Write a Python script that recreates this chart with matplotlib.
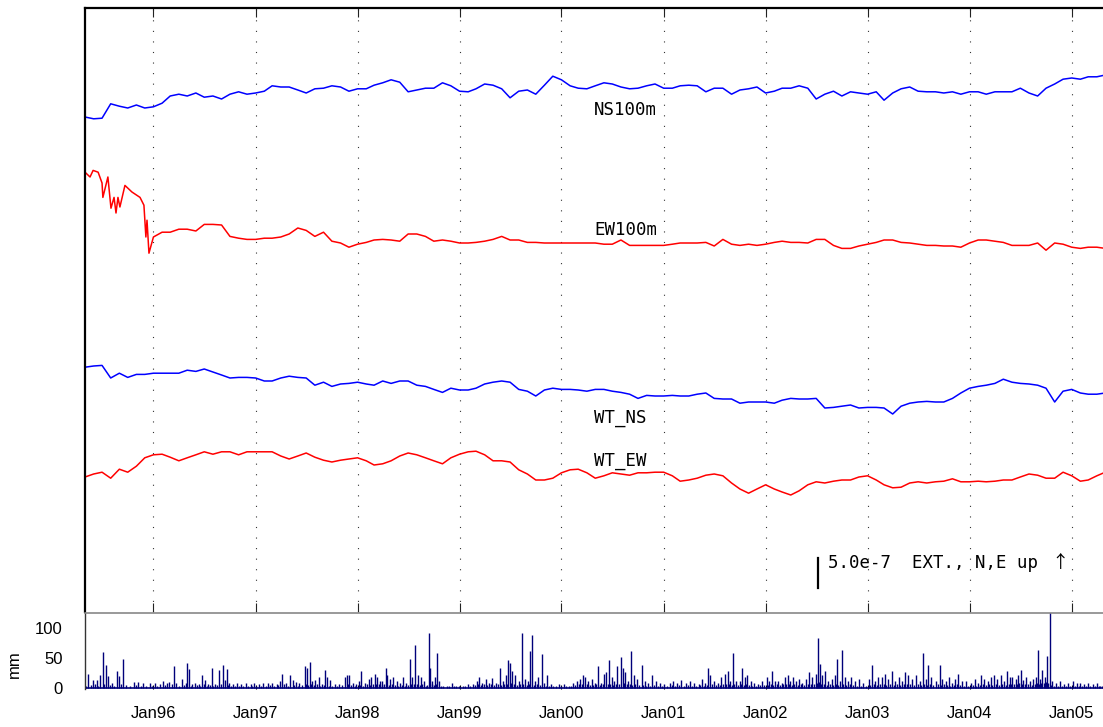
import numpy as np
import pandas as pd
import matplotlib
matplotlib.use("Agg")
import matplotlib.pyplot as plt
import matplotlib.dates as mdates

plt.rcParams["font.family"] = ["Liberation Sans", "DejaVu Sans"]

# ---------------------------------------------------------------- data
# Strain changes in units of 1e-7 (extension positive), relative to May 1995,
# sampled at the start of each month from 1995-05.
ns100m = [0.0, -0.3, -0.2, 2.2, 1.8, 1.5, 2.0, 1.5, 1.7, 2.3,
          3.5, 3.8, 3.5, 4.0, 3.3, 3.5, 3.0, 3.8, 4.2, 3.8,
          4.0, 4.3, 5.2, 5.0, 5.0, 4.5, 4.0, 4.7, 4.8, 5.2,
          5.0, 4.3, 4.7, 4.7, 5.3, 5.7, 6.2, 5.8, 4.2, 4.5,
          4.8, 4.8, 5.7, 5.2, 4.3, 4.2, 4.7, 5.5, 5.3, 4.7,
          3.2, 4.3, 4.5, 3.8, 5.3, 6.8, 6.2, 5.2, 4.8, 4.7,
          5.2, 5.7, 5.5, 5.0, 4.7, 4.8, 5.2, 5.5, 4.8, 4.8,
          5.2, 5.3, 5.2, 4.2, 4.8, 4.8, 3.8, 4.5, 4.7, 5.0,
          4.0, 4.3, 4.8, 4.8, 5.2, 4.8, 3.0, 3.8, 4.3, 3.5,
          4.2, 4.0, 3.8, 4.2, 2.8, 4.0, 4.7, 5.0, 4.3, 4.2,
          4.2, 4.0, 4.2, 3.8, 4.2, 4.2, 3.8, 4.2, 4.2, 4.2,
          4.8, 4.0, 3.5, 4.8, 5.5, 6.3, 6.5, 6.3, 6.7, 6.7,
          7.0]

# EW100m: dense readings during the settling period of 1995, monthly afterwards
ew100m_early_dates = ["1995-05-01", "1995-05-19", "1995-05-30", "1995-06-17",
                      "1995-07-01", "1995-07-04", "1995-07-22", "1995-08-02",
                      "1995-08-13", "1995-08-20", "1995-08-27", "1995-09-03",
                      "1995-09-21", "1995-10-16", "1995-11-14", "1995-11-28",
                      "1995-12-05", "1995-12-09", "1995-12-16"]
ew100m_early = [0.0, -0.8, 0.3, 0.0, -1.8, -4.2, -0.8, -6.0, -4.2, -6.8,
                -4.2, -5.8, -2.2, -3.3, -4.2, -5.5, -10.8, -8.0, -13.5]
ew100m_monthly_start = "1996-01-01"
ew100m_monthly = [-10.8, -10.0,
                  -10.0, -9.5, -9.5, -9.8, -8.7, -8.7, -8.8, -10.7, -11.0, -11.2,
                  -11.2, -11.0, -11.0, -10.8, -10.3, -9.3, -9.7, -10.7, -10.0, -11.5,
                  -11.8, -12.5, -12.0, -11.7, -11.3, -11.2, -11.3, -11.5, -10.3, -10.3,
                  -10.7, -11.5, -11.3, -11.5, -11.8, -11.8, -11.7, -11.5, -11.2, -10.7,
                  -11.3, -11.3, -11.7, -11.7, -11.8, -11.8, -11.8, -11.8, -11.8, -11.8,
                  -11.8, -12.0, -12.0, -11.3, -12.2, -12.2, -12.2, -12.2, -12.2, -12.0,
                  -11.8, -11.8, -11.8, -11.7, -12.3, -11.2, -12.0, -12.2, -12.0, -12.2,
                  -12.0, -11.7, -11.5, -11.7, -11.7, -11.8, -11.2, -11.2, -12.2, -12.7,
                  -12.7, -12.3, -12.0, -11.7, -11.3, -11.3, -11.7, -11.8, -12.0, -12.2,
                  -12.2, -12.3, -12.3, -12.5, -11.8, -11.3, -11.3, -11.5, -11.7, -12.2,
                  -12.2, -12.2, -11.8, -13.0, -11.8, -12.0, -12.5, -12.7, -12.5, -12.5,
                  -12.7]

wt_ns = [0.0, 0.2, 0.3, -1.8, -1.0, -1.7, -1.2, -1.2, -1.0, -1.0,
         -1.0, -1.0, -0.5, -0.7, -0.3, -0.8, -1.3, -1.8, -1.7, -1.7,
         -1.8, -2.3, -2.3, -1.8, -1.5, -1.7, -1.8, -3.0, -2.5, -3.2,
         -2.8, -2.7, -2.5, -2.8, -3.0, -2.3, -2.7, -2.3, -2.3, -3.0,
         -3.2, -3.7, -4.2, -3.5, -3.8, -3.8, -3.5, -2.8, -2.5, -2.3,
         -2.5, -3.7, -4.0, -4.8, -3.8, -3.5, -3.7, -3.7, -3.8, -4.0,
         -3.7, -3.7, -4.0, -4.2, -4.5, -5.2, -4.7, -4.8, -4.8, -4.7,
         -4.8, -4.8, -4.5, -4.3, -5.2, -5.3, -5.3, -6.0, -5.8, -5.8,
         -5.8, -6.0, -5.5, -5.2, -5.3, -5.3, -5.2, -6.8, -6.7, -6.5,
         -6.3, -6.8, -6.7, -6.7, -6.8, -7.8, -6.5, -6.0, -5.8, -5.7,
         -5.8, -5.8, -5.2, -4.3, -3.5, -3.2, -3.0, -2.7, -2.0, -2.5,
         -2.7, -2.8, -3.0, -3.5, -5.8, -4.0, -3.7, -4.3, -4.5, -4.5,
         -4.3]

wt_ew = [0.0, 0.5, 0.8, -0.2, 1.3, 0.8, 1.8, 3.2, 3.7, 3.8,
         3.3, 2.7, 3.2, 3.7, 4.2, 3.8, 4.2, 4.2, 3.7, 4.2,
         4.2, 4.2, 4.2, 3.5, 3.0, 3.5, 4.0, 3.3, 2.8, 2.5,
         2.8, 3.0, 3.2, 2.7, 2.0, 2.2, 2.7, 3.5, 4.0, 3.7,
         3.2, 2.7, 2.2, 3.2, 3.8, 4.2, 4.3, 3.7, 2.7, 2.7,
         2.5, 1.2, 0.5, -0.5, -0.5, -0.2, 0.7, 1.2, 1.3, 0.7,
         -0.2, 0.2, 0.7, 0.5, 0.3, 0.7, 0.7, 0.8, 0.8, 0.2,
         -0.7, -0.5, -0.2, 0.3, 0.5, 0.2, -1.0, -2.0, -2.7, -2.0,
         -1.3, -2.0, -2.5, -3.0, -2.3, -1.3, -0.8, -1.0, -0.7, -0.5,
         -0.5, 0.0, 0.2, -0.5, -1.3, -1.8, -1.7, -1.0, -0.8, -1.0,
         -0.8, -0.7, -0.3, -0.8, -0.8, -0.7, -0.8, -0.7, -0.5, -0.5,
         0.0, 0.5, 0.3, -0.2, -0.2, 0.8, 0.2, -0.7, -0.5, 0.2,
         0.8]

series_start = "1995-05-01"

# Daily precipitation (days after 1995-05-01, mm): the heavier days ...
rain_events = [
    (11, 23), (29, 13), (43, 14), (54, 22), (64, 60), (75, 38), (82, 20), (97, 8),
    (115, 28), (122, 20), (136, 48), (147, 5), (175, 10), (190, 10), (208, 9), (233, 8),
    (249, 9), (267, 6), (279, 12), (293, 9), (302, 10), (319, 36), (326, 8), (349, 15),
    (360, 9), (367, 42), (372, 32), (384, 6), (395, 9), (407, 7), (419, 21), (430, 13),
    (442, 7), (453, 34), (465, 6), (481, 30), (493, 38), (500, 13), (507, 32), (516, 9),
    (530, 6), (546, 9), (558, 6), (577, 9), (593, 7), (605, 8),
    (623, 7), (639, 8), (656, 8), (670, 9), (686, 7), (698, 12), (707, 24), (721, 8),
    (735, 21), (744, 13), (756, 10), (767, 8), (786, 36), (795, 34), (804, 43), (814, 12),
    (825, 13), (837, 18), (849, 7), (860, 30), (867, 18), (877, 13), (895, 6), (911, 7),
    (930, 19), (937, 22), (946, 21), (958, 9), (972, 7),
    (981, 11), (990, 29), (1004, 8), (1016, 15), (1025, 18), (1037, 23), (1046, 18),
    (1058, 12), (1065, 12), (1076, 34), (1083, 21), (1093, 15), (1104, 19), (1116, 12),
    (1128, 9), (1139, 18), (1151, 9), (1163, 49), (1172, 18), (1183, 71), (1193, 21),
    (1202, 19), (1214, 12), (1230, 92), (1237, 34), (1244, 12), (1253, 18), (1262, 58),
    (1269, 11), (1283, 4), (1295, 4), (1314, 8), (1330, 4),
    (1353, 4), (1372, 6), (1388, 7), (1402, 11), (1411, 18), (1423, 9), (1435, 15),
    (1446, 9), (1458, 16), (1472, 8), (1486, 33), (1495, 12), (1507, 21), (1516, 46),
    (1523, 41), (1530, 29), (1539, 21), (1553, 12), (1565, 92), (1576, 15), (1586, 12),
    (1595, 61), (1602, 89), (1611, 12), (1623, 18), (1637, 57), (1644, 9), (1655, 22),
    (1669, 7), (1686, 4), (1697, 6),
    (1716, 7), (1732, 4), (1748, 8), (1762, 11), (1774, 15), (1783, 21), (1790, 19),
    (1802, 11), (1814, 15), (1825, 8), (1837, 36), (1848, 9), (1860, 24), (1867, 26),
    (1876, 47), (1886, 18), (1895, 12), (1904, 37), (1918, 51), (1925, 34), (1934, 26),
    (1944, 12), (1955, 61), (1965, 21), (1976, 15), (1993, 39), (2004, 12), (2016, 9),
    (2030, 21), (2044, 12), (2058, 8),
    (2074, 6), (2093, 9), (2106, 12), (2120, 8), (2134, 13), (2151, 9), (2167, 11),
    (2181, 9), (2197, 6), (2209, 15), (2220, 9), (2232, 34), (2239, 21), (2251, 12),
    (2267, 8), (2279, 19), (2290, 23), (2302, 29), (2311, 12), (2320, 58), (2330, 12),
    (2344, 12), (2353, 33), (2362, 18), (2372, 21), (2383, 12), (2395, 8), (2409, 7),
    (2423, 11),
    (2441, 18), (2448, 12), (2460, 29), (2469, 11), (2483, 12), (2495, 9), (2506, 18),
    (2516, 22), (2525, 11), (2534, 18), (2546, 12), (2558, 15), (2569, 9), (2581, 15),
    (2592, 26), (2604, 18), (2616, 23), (2623, 83), (2630, 40), (2639, 21), (2651, 29),
    (2662, 12), (2674, 15), (2685, 21), (2692, 49), (2702, 12), (2709, 64), (2720, 18),
    (2732, 12), (2744, 18), (2757, 11), (2771, 15), (2785, 8),
    (2806, 15), (2818, 38), (2830, 12), (2841, 18), (2855, 19), (2864, 24), (2874, 15),
    (2890, 29), (2902, 12), (2913, 19), (2925, 12), (2937, 26), (2948, 21), (2962, 15),
    (2976, 21), (2988, 11), (2999, 58), (3011, 15), (3020, 38), (3029, 18), (3046, 12),
    (3060, 38), (3069, 15), (3083, 12), (3092, 18), (3104, 9), (3116, 15), (3127, 23),
    (3139, 12), (3153, 11),
    (3171, 9), (3185, 15), (3197, 9), (3209, 21), (3218, 15), (3232, 12), (3243, 18),
    (3255, 21), (3267, 15), (3278, 21), (3290, 12), (3302, 28), (3311, 18), (3320, 19),
    (3332, 15), (3341, 22), (3350, 30), (3360, 13), (3371, 19), (3383, 12), (3395, 15),
    (3404, 18), (3411, 64), (3420, 15), (3427, 30), (3436, 18), (3443, 53), (3455, 126),
    (3464, 11), (3478, 8), (3492, 12), (3506, 6), (3520, 8),
    (3539, 11), (3553, 8), (3564, 9), (3576, 6), (3592, 8), (3608, 6), (3622, 9),
    (3636, 4),
]

# ... and the light-rain days in between
light_rain_events = [
    (5, 4), (20, 5), (36, 6), (48, 4), (69, 7), (90, 5), (105, 4), (128, 6), (160, 4),
    (182, 5), (200, 3), (220, 4), (240, 3),
    (258, 4), (285, 5), (310, 6), (335, 4), (355, 5), (378, 4), (401, 5), (413, 3),
    (425, 6), (436, 4), (447, 5), (459, 4), (472, 5), (487, 6), (511, 5), (523, 4),
    (538, 3), (552, 4), (567, 3), (585, 4), (599, 3), (614, 4),
    (631, 3), (647, 4), (663, 5), (678, 4), (692, 5), (714, 6), (728, 4), (750, 5),
    (761, 4), (777, 5), (790, 6), (800, 5), (809, 6), (820, 5), (831, 6), (843, 4),
    (855, 5), (872, 4), (886, 3), (903, 4), (920, 5), (941, 6), (952, 5), (965, 4),
    (985, 5), (997, 4), (1010, 6), (1020, 5), (1031, 6), (1042, 7), (1052, 6), (1062, 5),
    (1070, 6), (1088, 5), (1098, 6), (1110, 5), (1122, 4), (1134, 5), (1145, 4),
    (1157, 5), (1168, 6), (1178, 7), (1188, 6), (1198, 5), (1208, 6), (1220, 4),
    (1225, 5), (1241, 6), (1249, 5), (1258, 6), (1276, 3), (1305, 3), (1322, 3), (1340, 3),
    (1362, 3), (1380, 4), (1395, 5), (1407, 6), (1417, 5), (1429, 6), (1441, 5),
    (1452, 6), (1465, 5), (1479, 6), (1490, 5), (1501, 6), (1511, 7), (1527, 8),
    (1535, 6), (1546, 5), (1559, 6), (1570, 6), (1581, 5), (1591, 6), (1606, 5),
    (1617, 6), (1630, 5), (1650, 4), (1662, 3), (1677, 3), (1705, 3),
    (1724, 3), (1740, 4), (1755, 5), (1768, 6), (1779, 7), (1796, 6), (1808, 5),
    (1820, 5), (1831, 6), (1843, 5), (1854, 6), (1872, 7), (1881, 6), (1890, 5),
    (1900, 6), (1911, 7), (1929, 8), (1939, 6), (1950, 6), (1960, 5), (1970, 6),
    (1984, 5), (1999, 5), (2010, 4), (2023, 4), (2037, 5), (2051, 4), (2066, 3),
    (2084, 4), (2100, 5), (2113, 4), (2127, 5), (2143, 4), (2159, 5), (2174, 4),
    (2189, 4), (2203, 5), (2215, 4), (2226, 5), (2245, 6), (2258, 5), (2273, 5),
    (2285, 6), (2296, 7), (2307, 6), (2316, 5), (2325, 6), (2337, 5), (2349, 6),
    (2358, 5), (2367, 6), (2378, 5), (2389, 4), (2402, 4), (2416, 5), (2432, 5),
    (2445, 5), (2455, 6), (2465, 5), (2476, 6), (2489, 5), (2500, 6), (2511, 7),
    (2521, 6), (2530, 5), (2540, 6), (2552, 5), (2563, 6), (2575, 5), (2587, 7),
    (2598, 6), (2610, 7), (2620, 8), (2627, 10), (2635, 7), (2645, 6), (2657, 5),
    (2668, 6), (2680, 5), (2689, 6), (2697, 5), (2715, 6), (2726, 5), (2738, 6),
    (2750, 5), (2764, 4), (2778, 4), (2795, 4),
    (2812, 5), (2824, 6), (2836, 5), (2848, 6), (2860, 7), (2869, 5), (2882, 6),
    (2896, 5), (2908, 6), (2919, 5), (2931, 6), (2943, 7), (2955, 6), (2969, 5),
    (2982, 6), (2994, 5), (3005, 6), (3016, 5), (3025, 6), (3037, 5), (3053, 6),
    (3065, 5), (3076, 6), (3088, 5), (3098, 4), (3110, 5), (3122, 6), (3133, 5),
    (3146, 4), (3162, 4),
    (3178, 5), (3191, 4), (3203, 5), (3214, 6), (3225, 5), (3238, 6), (3249, 5),
    (3261, 6), (3272, 5), (3284, 6), (3296, 5), (3307, 6), (3316, 7), (3326, 6),
    (3337, 7), (3346, 8), (3355, 6), (3366, 7), (3377, 6), (3389, 5), (3400, 7),
    (3408, 8), (3416, 7), (3424, 9), (3432, 8), (3440, 10), (3449, 9), (3460, 5),
    (3471, 4), (3485, 4), (3499, 3), (3513, 4), (3527, 3),
    (3546, 4), (3559, 4), (3570, 3), (3584, 4), (3600, 3), (3615, 4), (3629, 3), (3643, 3),
]

trace_labels = ["NS100m", "EW100m", "WT_NS", "WT_EW"]
scale_value = 5.0            # length of the scale bar, 1e-7
scale_text = "5.0e-7  EXT., N,E up"
scale_arrow = "\u2191"
year_ticks = [f"{y}-01-01" for y in range(1996, 2006)]

# ---------------------------------------------------------------- layout
W, H = 1103, 727
PX_PER_UNIT = 6.0            # pixels per 1e-7 of strain

def rect(left, top, right, bottom):
    return [left / W, 1 - bottom / H, (right - left) / W, (bottom - top) / H]

fig = plt.figure(figsize=(W / 100, H / 100), dpi=100)
ax = fig.add_axes(rect(85, 8, 1103, 612))
axr = fig.add_axes(rect(85, 613, 1103, 689))

x0 = pd.Timestamp(series_start)
x1 = pd.Timestamp("2005-04-23")
top_span = (612 - 8) / PX_PER_UNIT

# vertical offset of each trace on the strain axis
offsets = {"NS100m": 82.5, "EW100m": 73.3, "WT_NS": 40.8, "WT_EW": 22.5}

def monthly(vals, start=series_start):
    return pd.date_range(start, periods=len(vals), freq="MS")

ew_dates = list(pd.to_datetime(ew100m_early_dates)) + list(monthly(ew100m_monthly, ew100m_monthly_start))
ew_vals = ew100m_early + ew100m_monthly

traces = [
    (monthly(ns100m), ns100m, "#0000FF", "NS100m"),
    (ew_dates, ew_vals, "#FF0000", "EW100m"),
    (monthly(wt_ns), wt_ns, "#0000FF", "WT_NS"),
    (monthly(wt_ew), wt_ew, "#FF0000", "WT_EW"),
]
for d, v, c, name in traces:
    ax.plot(d, np.asarray(v) + offsets[name], color=c, lw=1.1, solid_joinstyle="round")

ax.set_xlim(x0, x1)
ax.set_ylim(0, top_span)
ticks = pd.to_datetime(year_ticks)
ax.set_xticks(ticks)
ax.set_yticks([])
ax.tick_params(axis="x", which="both", direction="in", length=6.5, width=0.8,
               top=True, bottom=True, labelbottom=False, color="#222222")
ax.grid(axis="x", color="#333333", lw=0.8, linestyle=(0, (1, 8.5)))
for s in ("left", "top"):
    ax.spines[s].set_linewidth(1.6)
    ax.spines[s].set_color("black")
ax.spines["right"].set_visible(False)
ax.spines["bottom"].set_visible(False)

label_pos = {"NS100m": 0.8228, "EW100m": 0.6242, "WT_NS": 0.3129, "WT_EW": 0.2417}
mono = dict(family="DejaVu Sans Mono", fontsize=12.5, va="baseline", ha="left")
for name in trace_labels:
    ax.text(0.5, label_pos[name], name, transform=ax.transAxes, **mono)

# scale bar
bar_date = pd.Timestamp("2002-07-08")
ax.plot([bar_date, bar_date], [4.0, 4.0 + scale_value], color="black", lw=1.6)
ax.text(0.7299, 0.0728, scale_text, transform=ax.transAxes, **mono)
ax.text(0.9578, 0.0728, scale_arrow, transform=ax.transAxes, family="Noto Sans CJK JP",
        fontsize=12.5, va="baseline", ha="center")

# ---------------------------------------------------------------- precipitation
all_rain = sorted(rain_events + light_rain_events)
rain_days = np.array([d for d, _ in all_rain])
rain_mm = np.array([m for _, m in all_rain])
rain_dates = x0 + pd.to_timedelta(rain_days, unit="D")
axr.vlines(rain_dates, 0, rain_mm, color="#00007A", lw=1.0)
axr.axhline(0, color="#00007A", lw=1.2)

axr.set_xlim(x0, x1)
axr.set_ylim(-1.5, 125)
axr.set_xticks(ticks)
axr.xaxis.set_major_formatter(mdates.DateFormatter("Jan%y"))
axr.tick_params(axis="x", direction="in", length=3, width=0.8, pad=12.5, labelsize=12)
axr.set_yticks([0, 50, 100])
axr.tick_params(axis="y", length=0, pad=16, labelsize=12)
axr.set_ylabel("mm", fontsize=12)
axr.yaxis.set_label_coords(-0.0619, 0.33)
axr.spines["right"].set_visible(False)
axr.spines["bottom"].set_visible(False)
axr.spines["top"].set_color("#888888")
axr.spines["top"].set_linewidth(1.2)
axr.spines["left"].set_color("#333333")
axr.spines["left"].set_linewidth(1.0)

fig.savefig("out.png", dpi=100)
